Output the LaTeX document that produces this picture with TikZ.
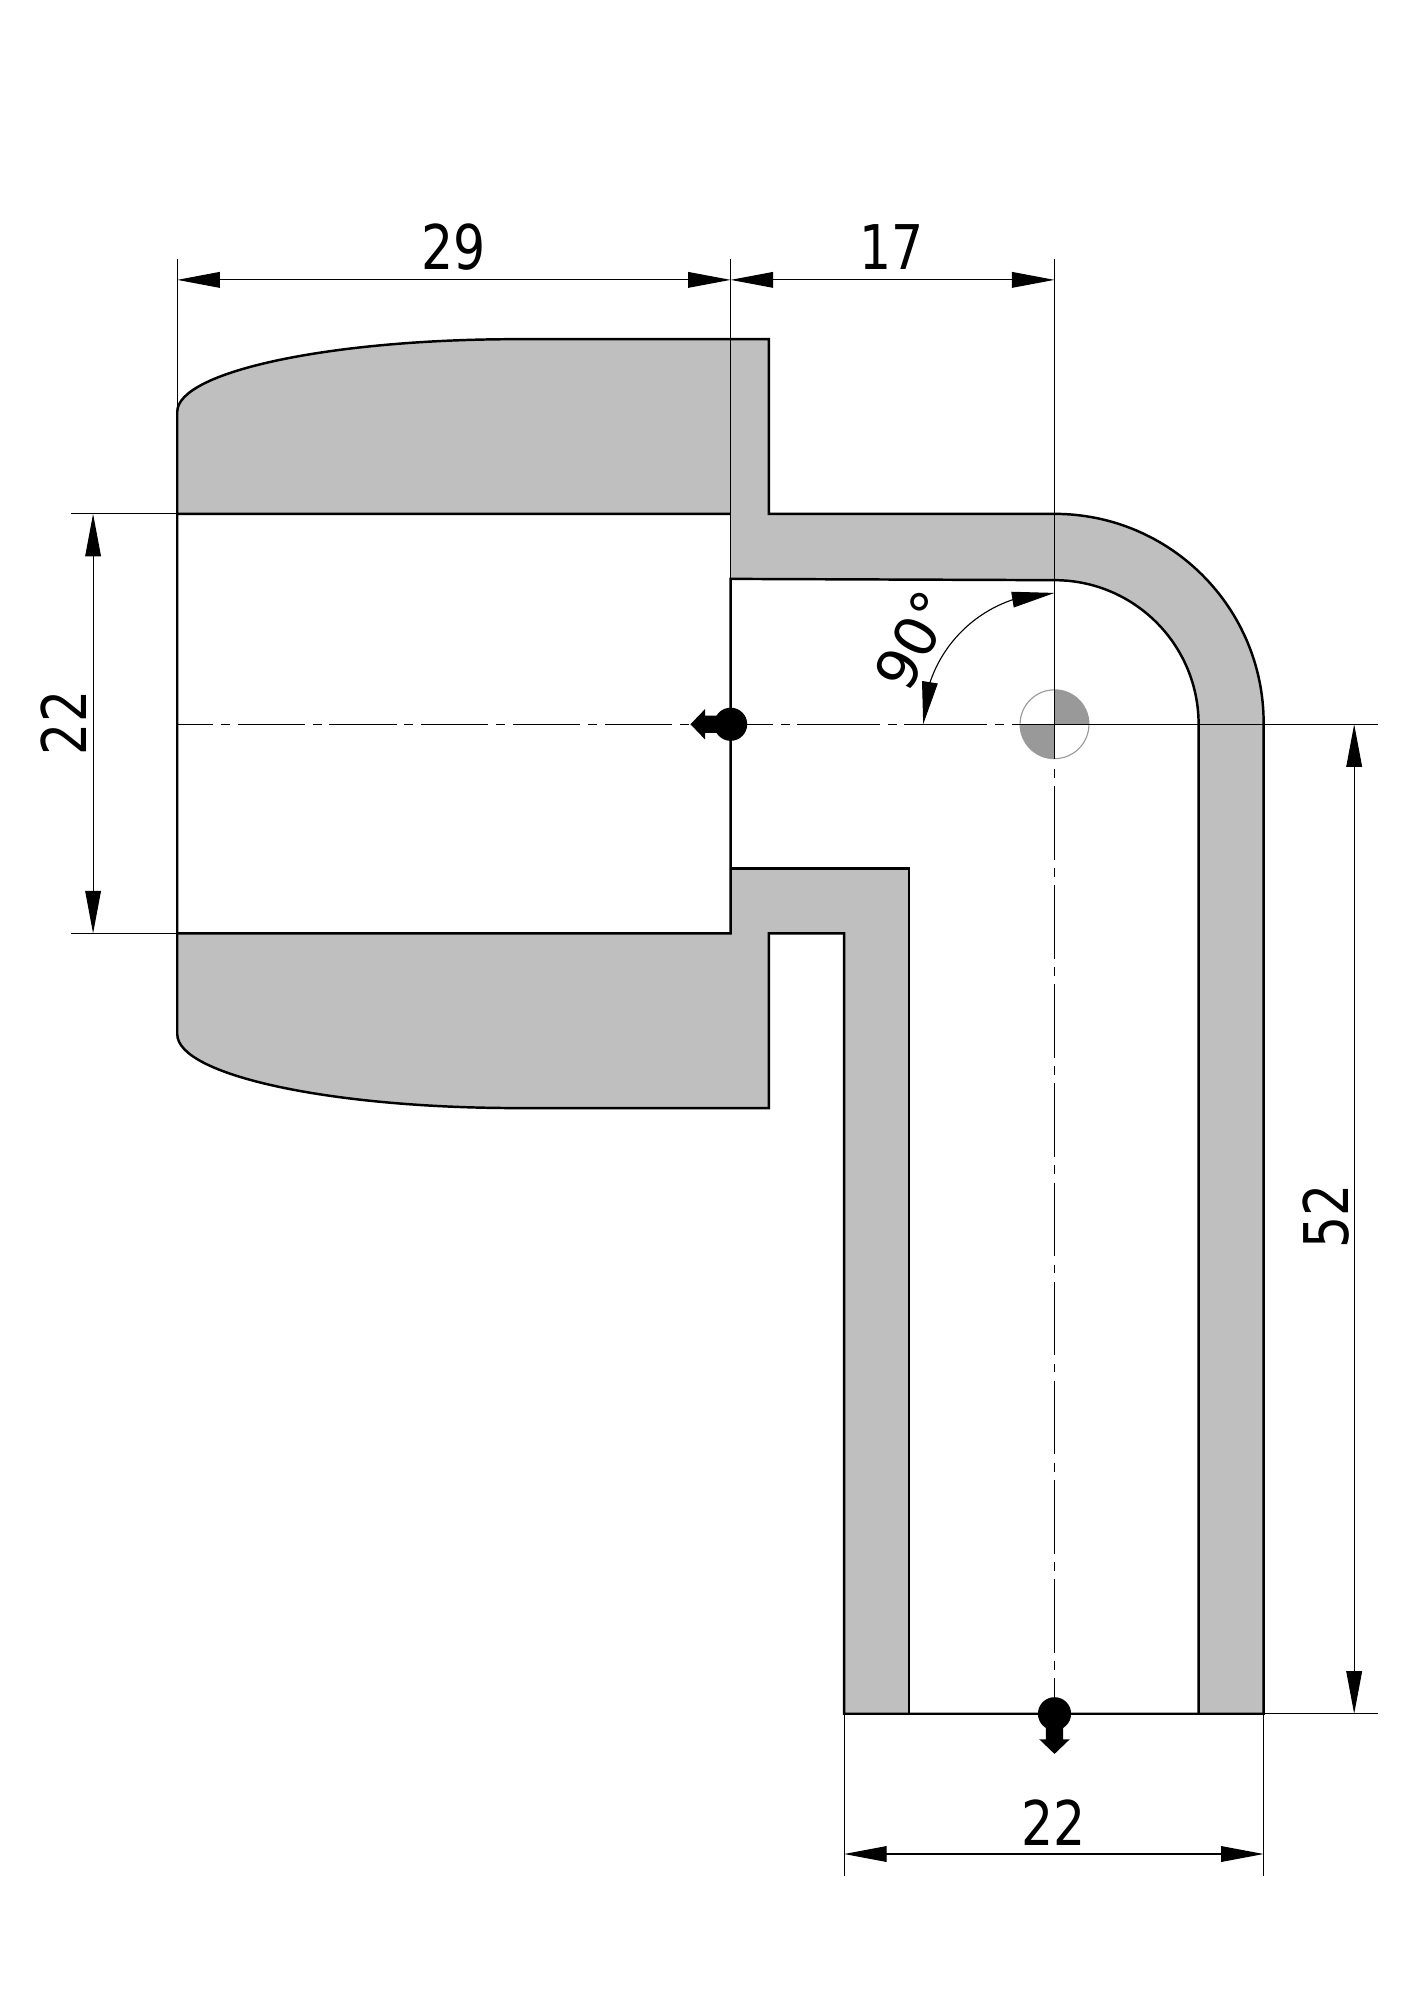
\documentclass[tikz,border=0pt]{standalone}
\usepackage{fontspec}
\setmainfont[FakeStretch=0.82]{DejaVu Sans}
\newfontfamily\anglefont{DejaVu Sans}
\usetikzlibrary{arrows.meta,bending}
\definecolor{partgray}{HTML}{BFBFBF}
\definecolor{markgray}{HTML}{999999}
\tikzset{
	outline/.style={black, line width=1.1pt, line join=miter},
	thinline/.style={black, line width=0.5pt},
	axisleft/.style={black, line width=0.5pt, dash pattern=on 30pt off 3.5pt on 4pt off 3.5pt, dash phase=14.1pt},
	axisright/.style={black, line width=0.5pt, dash pattern=on 37pt off 3.5pt on 3.8pt off 3.5pt, dash phase=18pt},
	axisdown/.style={black, line width=0.5pt, dash pattern=on 4pt off 3.6pt on 33pt off 3.6pt},
	dimline/.style={black, line width=0.5pt, {Triangle[length=19pt,width=7pt]}-{Triangle[length=19pt,width=7pt]}},
	dimlabel/.style={inner sep=0pt, font=\fontsize{27.5}{27.5}\selectfont},
}
\begin{document}
\begin{tikzpicture}[x=0.02cm, y=0.02cm]
	\useasboundingbox (-1,1) rectangle (1108,-1567.5);
	\fill[partgray] (138,-402) -- (138,-322) arc[start angle=180, end angle=90, x radius=267, y radius=57] -- (602,-265) -- (602,-402) -- (826,-402) arc[start angle=90, end angle=0, radius=164] -- (990,-1343) -- (939,-1343) -- (939,-567) arc[start angle=0, end angle=90, radius=113] -- (572,-453) -- (572,-402) -- cycle; %upper
	\fill[partgray] (138,-731) -- (572,-731) -- (572,-680) -- (712,-680) -- (712,-1343) -- (661,-1343) -- (661,-731) -- (602,-731) -- (602,-868) -- (405,-868) arc[start angle=270, end angle=180, x radius=267, y radius=58] -- cycle; %lower
	\fill[markgray] (826,-567) -- (853,-567) arc (0:90:27) -- cycle;
	\fill[markgray] (826,-567) -- (799,-567) arc (180:270:27) -- cycle;
	\draw[markgray, line width=0.5pt] (826,-567) circle (27);
	\draw[outline] (572,-402) -- (138,-402) -- (138,-322) arc[start angle=180, end angle=90, x radius=267, y radius=57] -- (602,-265) -- (602,-402) -- (826,-402) arc[start angle=90, end angle=0, radius=164] -- (990,-1343) -- (661,-1343) -- (661,-731) -- (602,-731) -- (602,-868) -- (405,-868) arc[start angle=270, end angle=180, x radius=267, y radius=58] -- (138,-402); %contour
	\draw[outline] (939,-1343) -- (939,-567) arc[start angle=0, end angle=90, radius=113] -- (572,-453) -- (572,-731) -- (138,-731);
	\draw[outline] (572,-680) -- (712,-680) -- (712,-1343);
	\draw[thinline] (138,-202) -- (138,-402);
	\draw[thinline] (572,-202) -- (572,-453);
	\draw[thinline] (826,-202) -- (826,-594);
	\draw[thinline] (55,-402) -- (138,-402);
	\draw[thinline] (55,-731) -- (138,-731);
	\draw[thinline] (826,-567) -- (1080,-567);
	\draw[thinline] (990,-1343) -- (1080,-1343);
	\draw[thinline] (661,-1343) -- (661,-1470);
	\draw[thinline] (990,-1343) -- (990,-1470);
	\draw[axisleft] (138,-567) -- (572,-567); %ejes
	\draw[axisright] (572,-567) -- (826,-567);
	\draw[axisdown] (826,-602.4) -- (826,-1343);
	\fill (572,-567) circle (13);
	\fill (572,-560.2) -- (552,-560.2) -- (552,-555) -- (540.5,-567) -- (552,-579) -- (552,-573.8) -- (572,-573.8) -- cycle;
	\fill (826,-1343) circle (13);
	\fill (819.2,-1343) -- (819.2,-1363) -- (814,-1363) -- (826,-1374.5) -- (838,-1363) -- (832.8,-1363) -- (832.8,-1343) -- cycle;
	\draw[dimline] (138,-218.5) -- (572,-218.5);
	\node[dimlabel] (dimA) at (355,-193) {29};
	\draw[dimline] (572,-218.5) -- (826,-218.5);
	\node[dimlabel] (dimB) at (698,-193) {17};
	\draw[dimline] (72,-402) -- (72,-731);
	\node[dimlabel, rotate=90] (dimC) at (49,-566) {22};
	\draw[dimline] (1061,-567) -- (1061,-1343);
	\node[dimlabel, rotate=90] (dimD) at (1039,-953) {52};
	\draw[dimline] (661,-1453) -- (990,-1453);
	\node[dimlabel] (dimE) at (825,-1428) {22};
	\draw[dimline] (826,-464) arc (90:180:103);
	\node[dimlabel, rotate=62, font=\fontsize{25.5}{25.5}\selectfont] (dimF) at (716,-501) {\anglefont 90°};
\end{tikzpicture}
\end{document}
